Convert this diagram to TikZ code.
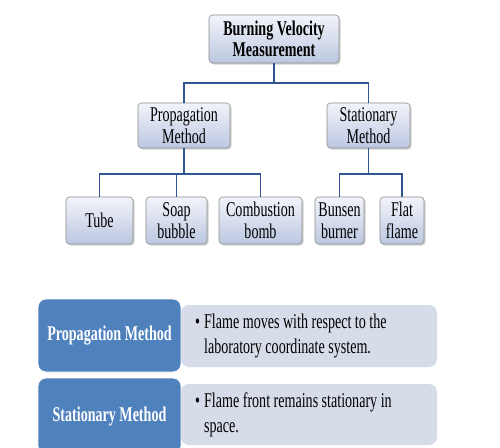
\documentclass[tikz,border=0pt]{standalone}
\usepackage{fontspec}
\setmainfont{Liberation Serif}[FakeStretch=0.67]
\usetikzlibrary{shadows}
\definecolor{linec}{HTML}{2F5592}
\definecolor{boxtop}{HTML}{F2F4FA}
\definecolor{boxbot}{HTML}{BCC7E0}
\definecolor{boxedge}{HTML}{8C8C8C}
\definecolor{bluebox}{HTML}{4F81BD}
\definecolor{greybox}{HTML}{D7DCE9}
\begin{document}
\begin{tikzpicture}[x=1pt,y=-1pt,
  treebox/.style={draw=boxedge, line width=0.6pt, rounded corners=3.5pt,
    top color=boxtop, bottom color=boxbot, align=center, inner sep=0pt,
    drop shadow={shadow xshift=1.5pt, shadow yshift=-1.5pt, opacity=0.35},
    font=\fontsize{21}{21.5}\selectfont},
  conn/.style={draw=linec, line width=1.8pt},
  bluecard/.style={fill=bluebox, draw=white, line width=0.8pt, rounded corners=8pt,
    text=white, inner sep=0pt, font=\fontsize{21}{21.5}\selectfont\bfseries},
  greycard/.style={fill=greybox, draw=none, rounded corners=8pt, inner sep=0pt},
  bullettext/.style={align=left, inner sep=0pt, anchor=west,
    font=\fontsize{21}{25}\selectfont}]
\useasboundingbox (0,0) rectangle (500,447);
\fill[white] (0,0) rectangle (500,447);

% tree nodes
\node[treebox, minimum width=130pt, minimum height=48pt, font=\fontsize{21}{21.5}\selectfont\bfseries]
  (top) at (274,39) {Burning Velocity\\Measurement};
\node[treebox, minimum width=92pt, minimum height=45pt] (prop) at (184,125.5) {Propagation\\Method};
\node[treebox, minimum width=83pt, minimum height=45pt] (stat) at (368.5,125.5) {Stationary\\Method};
\node[treebox, minimum width=67pt, minimum height=47pt] (tube) at (99.5,220.5) {Tube};
\node[treebox, minimum width=61pt, minimum height=47pt] (soap) at (176.5,220.5) {Soap\\bubble};
\node[treebox, minimum width=83pt, minimum height=47pt] (comb) at (260.5,220.5) {Combustion\\bomb};
\node[treebox, minimum width=49pt, minimum height=47pt] (buns) at (339.5,220.5) {Bunsen\\burner};
\node[treebox, minimum width=44pt, minimum height=47pt] (flat) at (402,220.5) {Flat\\flame};

% connectors
\coordinate (j1) at (274,83);
\coordinate (j2) at (184,174);
\coordinate (j3) at (368.5,174);
\draw[conn] (top.south) -- (j1) -| (prop.north);
\draw[conn] (j1) -| (stat.north);
\draw[conn] (prop.south) -- (j2) -| (tube.north);
\draw[conn] (j2) -| (comb.north);
\draw[conn] (j2 -| soap.north) -- (soap.north);
\draw[conn] (stat.south) -- (j3) -| (buns.north);
\draw[conn] (j3) -| (flat.north);

% lower cards
\node[greycard, minimum width=256pt, minimum height=62pt] (g1) at (309,336) {};
\node[bluecard, minimum width=143pt, minimum height=73pt] (b1) at (109.5,335.5) {Propagation Method};
\node[bullettext] (t1) at (195,336) {\begin{tabular}{@{}l@{\hspace{4pt}}l@{}}\textbullet & Flame moves with respect to the\\ & laboratory coordinate system.\end{tabular}};

\node[greycard, minimum width=256pt, minimum height=61pt] (g2) at (309,414.5) {};
\node[bluecard, minimum width=143pt, minimum height=76pt] (b2) at (109.5,416) {Stationary Method};
\node[bullettext] (t2) at (195,415) {\begin{tabular}{@{}l@{\hspace{4pt}}l@{}}\textbullet & Flame front remains stationary in\\ & space.\end{tabular}};
\end{tikzpicture}
\end{document}
